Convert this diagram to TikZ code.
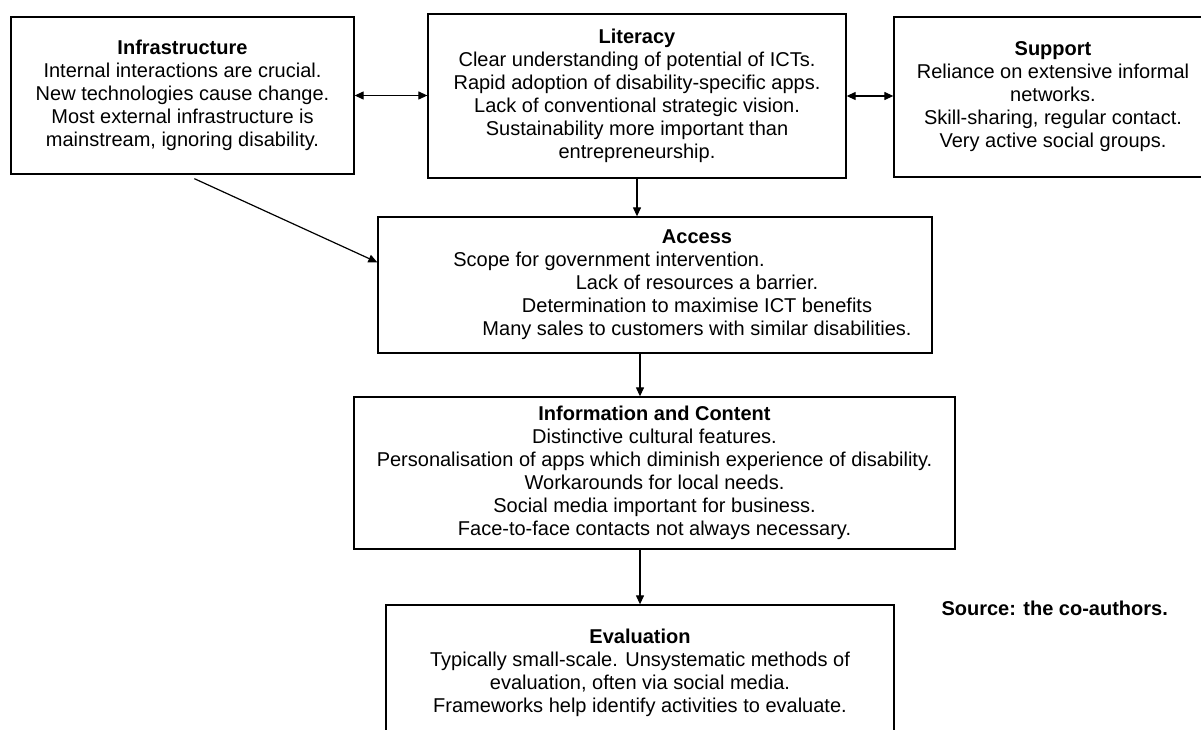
\documentclass[tikz,border=0pt]{standalone}
\usepackage{fontspec}
\setmainfont{Liberation Sans}
\usetikzlibrary{arrows.meta, positioning}

\begin{document}
\begin{tikzpicture}[x=1pt, y=-1pt,
    box/.style={draw, rectangle, line width=1.3pt, align=center, inner sep=0pt,
      font=\fontsize{20}{23}\selectfont},
    link/.style={line width=1.2pt, -{Triangle[length=9pt, width=8pt]}},
    twoway/.style={line width=1.2pt, {Triangle[length=9pt, width=8pt]}-{Triangle[length=9pt, width=8pt]}}]
    \useasboundingbox (0,0) rectangle (1201,730);
    \clip (0,0) rectangle (1201,730);

    % Boxes
    \node[box, minimum width=343pt, minimum height=157pt] (infra) at (182.5,95.5)
      {\textbf{Infrastructure}\\Internal interactions are crucial.\\New technologies cause change.\\Most external infrastructure is\\mainstream, ignoring disability.};
    \node[box, minimum width=418pt, minimum height=164pt] (literacy) at (637,96)
      {\textbf{Literacy}\\Clear understanding of potential of ICTs.\\Rapid adoption of disability-specific apps.\\Lack of conventional strategic vision.\\Sustainability more important than\\entrepreneurship.};
    \node[box, minimum width=318pt, minimum height=160pt] (support) at (1053,97)
      {\textbf{Support}\\Reliance on extensive informal\\networks.\\Skill-sharing, regular contact.\\Very active social groups.};
    % access text sits right of the box centre, first line pulled left
    \node[box, minimum width=554pt, minimum height=136pt] (access) at (655,285)
      {\begin{tabular}{@{\hspace{84pt}}c@{}}
        \textbf{Access}\\
        \hspace*{-176pt}Scope for government intervention.\\
        Lack of resources a barrier.\\
        Determination to maximise ICT benefits\\
        Many sales to customers with similar disabilities.
      \end{tabular}};
    \node[box, minimum width=601pt, minimum height=152pt] (info) at (654.5,473)
      {\textbf{Information and Content}\\Distinctive cultural features.\\Personalisation of apps which diminish experience of disability.\\Workarounds for local needs.\\Social media important for business.\\Face-to-face contacts not always necessary.};
    \node[box, minimum width=508pt, minimum height=136pt] (eval) at (640,673)
      {\textbf{Evaluation}\\Typically small-scale. Unsystematic methods of\\evaluation, often via social media.\\Frameworks help identify activities to evaluate.};
    \node[anchor=base west, font=\fontsize{20}{23}\selectfont\bfseries] (source) at (938,615) {Source: the co-authors.};

    % Arrows
    \draw[twoway] (infra.east) -- (infra.east -| literacy.west);
    \draw[twoway] (literacy.east) -- (literacy.east -| support.west);
    \draw[link] (literacy.south) -- (literacy.south |- access.north);
    \draw[link] ([xshift=184pt, yshift=-4pt]infra.south west) -- ([yshift=-46pt]access.north west);
    \draw[link] (access.south -| eval.north) -- (eval.north |- info.north);
    \draw[link] (info.south -| eval.north) -- (eval.north);
\end{tikzpicture}
\end{document}
